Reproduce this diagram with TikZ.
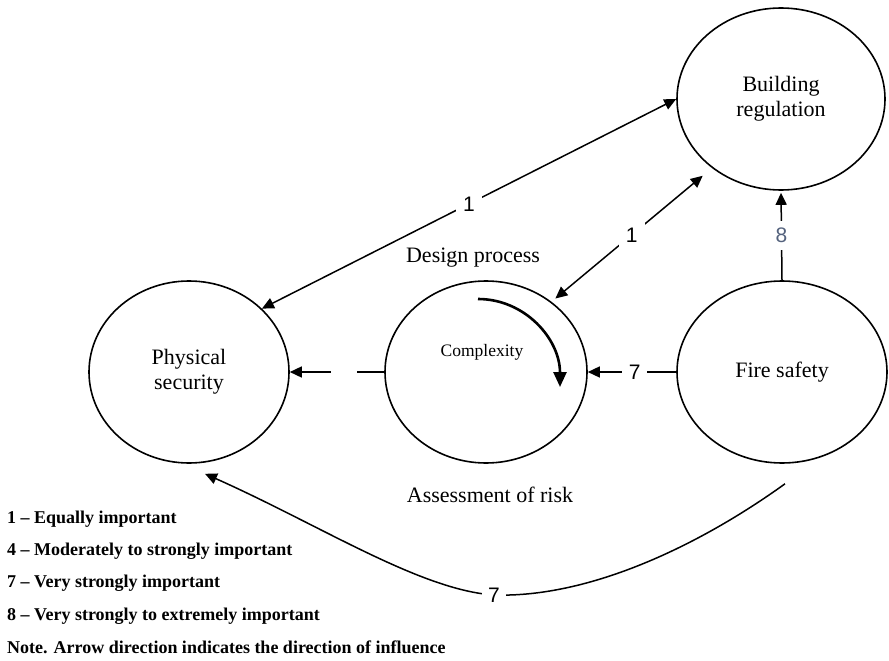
\documentclass[tikz,border=0pt]{standalone}
\usepackage{fontspec}
\setmainfont{Liberation Serif}
\newfontfamily\weightfont{Liberation Sans}
\usetikzlibrary{arrows.meta,shapes.geometric}
\definecolor{weightblue}{RGB}{84,98,125}
\begin{document}
\begin{tikzpicture}[x=1pt,y=-1pt,
  >={Triangle[width=11pt,length=12pt]},
  topic/.style={ellipse, draw, line width=1.6pt, minimum width=200pt,
    minimum height=182pt, inner sep=0pt, align=center,
    font=\fontsize{22}{25}\selectfont},
  link/.style={line width=1.5pt},
  weight/.style={fill=white, inner sep=7pt,
    font=\weightfont\fontsize{21}{21}\selectfont},
  caption/.style={font=\fontsize{22}{25}\selectfont},
  keyline/.style={anchor=base west, inner sep=0pt,
    font=\bfseries\fontsize{18}{20}\selectfont},
]
\useasboundingbox (0,0) rectangle (889,661);

% the four topics
\node[topic] (phys) at (189,372) {Physical\\security};
\node[topic, minimum width=202pt] (comp) at (486,372) {};
\node[topic, minimum width=210pt] (fire) at (782,372) {Fire safety};
\node[topic, minimum width=208pt] (bldg) at (781,99) {Building\\regulation};

% captions around the central topic
\node[caption] (design) at (473,258) {Design process};
\node[caption] (risk) at (490,495) {Assessment of risk};
\node[font=\fontsize{17.5}{20}\selectfont] (cplx) at (482,352) {Complexity};

% rotation arrow inside the central topic
\coordinate (spinA) at (478,299);
\coordinate (spinB) at (560,387);
\draw[line width=2.6pt, -{Triangle[width=13pt,length=15pt]}]
  (spinA) .. controls (525,299) and (560,339) .. (spinB);

% weighted influences
\draw[link, <->] (phys.41) -- node[weight] {1} (bldg.west);
\draw[link, <->, shorten <=5pt, shorten >=12pt] (comp.47)
  -- node[weight] {1} (bldg.225);
\draw[link, ->, shorten >=2pt] (fire.north)
  -- node[weight, text=weightblue, pos=0.5] {8} (bldg.south);
\draw[link, ->] (fire.west) -- node[weight, pos=0.47] {7} (comp.east);
\draw[link, ->] (comp.west) -- node[fill=white, inner sep=0pt, pos=0.43,
  minimum width=26pt, minimum height=6pt] (gap) {} (phys.east);
\coordinate (low) at (494,595);
\draw[link, <-] ([xshift=16pt,yshift=-10pt]phys.south)
  .. controls (320,525) and (420,590) .. (low)
  node[weight, inner sep=6pt] {7}
  .. controls (590,598) and (700,545) .. ([xshift=3pt,yshift=-20pt]fire.south);

% key
\node[keyline] (k1) at (7,523) {1 -- Equally important};
\node[keyline] (k4) at (7,555) {4 -- Moderately to strongly important};
\node[keyline] (k7) at (7,587) {7 -- Very strongly important};
\node[keyline] (k8) at (7,620) {8 -- Very strongly to extremely important};
\node[keyline] (note) at (7,653) {Note. Arrow direction indicates the direction of influence};
\end{tikzpicture}
\end{document}
